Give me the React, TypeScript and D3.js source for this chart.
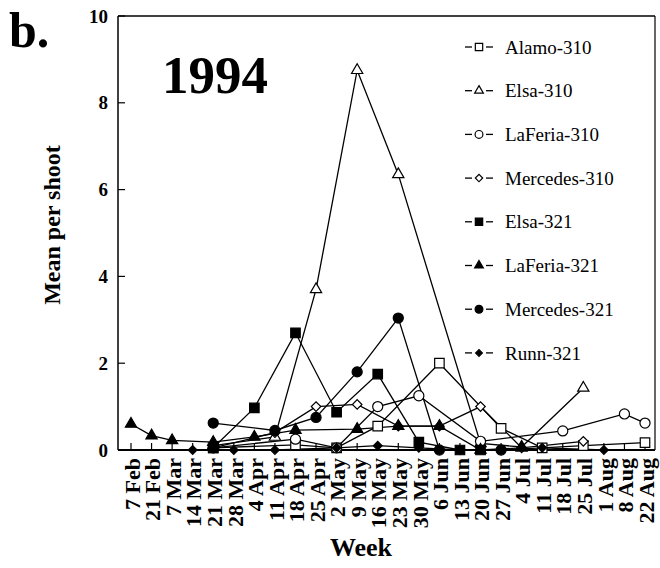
import { useMemo } from "react";
import * as d3 from "d3";

const weeks = [
  "7 Feb", "21 Feb", "7 Mar", "14 Mar", "21 Mar", "28 Mar", "4 Apr", "11 Apr",
  "18 Apr", "25 Apr", "2 May", "9 May", "16 May", "23 May", "30 May", "6 Jun",
  "13 Jun", "20 Jun", "27 Jun", "4 Jul", "11 Jul", "18 Jul", "25 Jul", "1 Aug",
  "8 Aug", "22 Aug",
];

const _ = null;
// one value per week, null = not sampled
const alamo310 = [_, _, _, _, 0.05, _, _, _, 0.12, _, 0.05, _, 0.55, _, _, 2.0, _, _, 0.5, _, 0.05, _, 0.1, _, _, 0.17];
const elsa310 = [_, _, _, _, 0.1, _, _, 0.3, _, 3.7, _, 8.75, _, 6.35, _, _, _, 0.15, _, 0.07, _, _, 1.43, _, _, _];
const laFeria310 = [_, _, _, _, 0.05, _, _, _, 0.25, _, 0.05, _, 1.0, _, 1.25, _, _, 0.2, _, _, _, 0.44, _, _, 0.83, 0.62];
const mercedes310 = [_, _, _, _, 0.05, _, _, 0.4, _, 1.0, _, 1.05, _, 0.55, _, 0.55, _, 1.0, _, 0.05, _, _, 0.2, _, _, _];
const elsa321 = [_, _, _, _, 0.05, _, 0.97, _, 2.7, _, 0.87, _, 1.75, _, 0.18, _, 0, 0, _, _, _, _, _, _, _, _];
const laFeria321 = [0.6, 0.33, 0.22, _, 0.18, _, 0.3, _, 0.46, _, _, 0.48, _, 0.55, _, 0.55, _, 0, _, 0.05, _, _, _, _, _, _];
const mercedes321 = [_, _, _, _, 0.62, _, _, 0.45, _, 0.75, _, 1.8, _, 3.04, _, 0, _, _, 0, _, _, _, _, _, _, _];
const runn321 = [_, _, _, 0, _, 0, _, 0, _, _, 0.05, _, 0.1, _, 0.05, _, 0, _, 0, _, 0.05, _, _, 0, _, _];

const yTicks = [0, 2, 4, 6, 8, 10];

type Shape = "square" | "triangle" | "circle" | "diamond";
const series: { name: string; values: (number | null)[]; shape: Shape; filled: boolean }[] = [
  { name: "Alamo-310", values: alamo310, shape: "square", filled: false },
  { name: "Elsa-310", values: elsa310, shape: "triangle", filled: false },
  { name: "LaFeria-310", values: laFeria310, shape: "circle", filled: false },
  { name: "Mercedes-310", values: mercedes310, shape: "diamond", filled: false },
  { name: "Elsa-321", values: elsa321, shape: "square", filled: true },
  { name: "LaFeria-321", values: laFeria321, shape: "triangle", filled: true },
  { name: "Mercedes-321", values: mercedes321, shape: "circle", filled: true },
  { name: "Runn-321", values: runn321, shape: "diamond", filled: true },
];

const symbolPath = (shape: Shape, k: number) => {
  if (shape === "square") return d3.symbol(d3.symbolSquare, 90 * k)()!;
  if (shape === "triangle") return d3.symbol(d3.symbolTriangle, 55 * k)()!;
  if (shape === "circle") return d3.symbol(d3.symbolCircle, 80 * k)()!;
  return d3.symbol(d3.symbolSquare, 45 * k)()!;
};

const Marker = ({ shape, filled, x, y, k = 1 }: { shape: Shape; filled: boolean; x: number; y: number; k?: number }) => (
  <path
    d={symbolPath(shape, shape === "diamond" && filled ? k * 0.85 : k)}
    transform={`translate(${x},${y})${shape === "diamond" ? " rotate(45)" : ""}`}
    fill={filled ? "#000" : "#fff"}
    stroke="#000"
    strokeWidth={1.2}
  />
);

export default function App() {
  const width = 660;
  const height = 568;
  const left = 118, right = 655, top = 16, bottom = 450;

  const xScale = useMemo(() => d3.scalePoint<string>().domain(weeks).range([131, 645]), []);
  const yScale = useMemo(() => d3.scaleLinear().domain([0, 10]).range([bottom, top]), []);

  const line = d3
    .line<{ w: string; v: number }>()
    .x((d) => xScale(d.w)!)
    .y((d) => yScale(d.v));

  const pts = (vals: (number | null)[]) =>
    vals.map((v, i) => ({ w: weeks[i], v })).filter((d) => d.v !== null) as { w: string; v: number }[];

  const serif = "'Liberation Serif', 'Times New Roman', serif";

  return (
    <svg width={width} height={height} style={{ position: "absolute", left: 0, top: 0 }} fontFamily={serif}>
      <rect width={width} height={height} fill="#fff" />

      {/* frame */}
      <line x1={left} x2={right} y1={top} y2={top} stroke="#000" strokeWidth={1.5} />
      <line x1={right} x2={right} y1={top} y2={bottom} stroke="#000" strokeWidth={1.2} />
      <line x1={left} x2={left} y1={top} y2={bottom} stroke="#000" strokeWidth={1.5} />
      <line x1={left} x2={right} y1={bottom} y2={bottom} stroke="#000" strokeWidth={2} />

      {yTicks.map((t) => (
        <g key={t}>
          <line x1={left} x2={left + 7} y1={yScale(t)} y2={yScale(t)} stroke="#000" strokeWidth={1.2} />
          <text x={108} y={yScale(t)} dy="0.35em" textAnchor="end" fontSize={19} fontWeight="bold">
            {t}
          </text>
        </g>
      ))}

      {weeks.map((w) => (
        <g key={w}>
          <line x1={xScale(w)} x2={xScale(w)} y1={bottom} y2={bottom - 7} stroke="#000" strokeWidth={1.2} />
          <text
            transform={`translate(${xScale(w)! + 1},${458}) rotate(-90)`}
            dy="0.35em"
            textAnchor="end"
            fontSize={22}
            fontWeight="bold"
          >
            {w}
          </text>
        </g>
      ))}

      {series.map((s) => (
        <path key={s.name} d={line(pts(s.values))!} fill="none" stroke="#000" strokeWidth={1.3} />
      ))}
      {series.map((s) =>
        pts(s.values).map((d) => (
          <Marker key={s.name + d.w} shape={s.shape} filled={s.filled} x={xScale(d.w)!} y={yScale(d.v)} />
        ))
      )}

      {/* legend */}
      {series.map((s, i) => {
        const y = 47 + i * 43.7;
        return (
          <g key={s.name}>
            <line x1={465} x2={472} y1={y} y2={y} stroke="#000" strokeWidth={1.3} />
            <line x1={486} x2={493} y1={y} y2={y} stroke="#000" strokeWidth={1.3} />
            <Marker shape={s.shape} filled={s.filled} x={479} y={y} k={0.6} />
            <text x={505} y={y} dy="0.35em" fontSize={19}>
              {s.name}
            </text>
          </g>
        );
      })}

      <text x={162} y={93} fontSize={53} fontWeight="bold">1994</text>
      <text x={9} y={47} fontSize={50} fontWeight="bold">b.</text>
      <text
        transform={`translate(52,225) rotate(-90)`}
        textAnchor="middle"
        dy="0.35em"
        fontSize={24}
        fontWeight="bold"
      >
        Mean per shoot
      </text>
      <text x={361} y={556} textAnchor="middle" fontSize={26} fontWeight="bold">
        Week
      </text>
    </svg>
  );
}
